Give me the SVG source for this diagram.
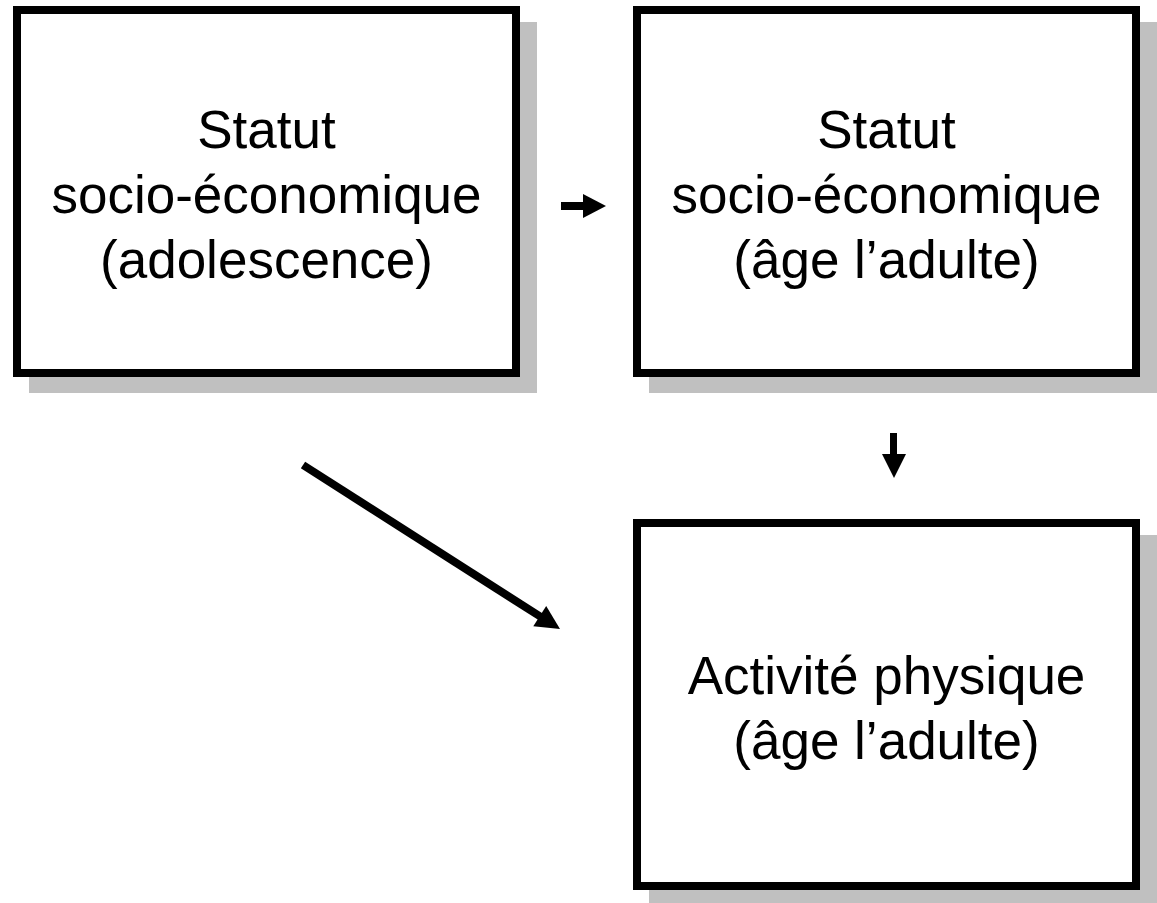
<svg xmlns="http://www.w3.org/2000/svg" width="1157" height="903" viewBox="0 0 1157 903">
<style>
.shadow{fill:#c0c0c0;stroke:none}
.box{fill:#ffffff;stroke:#000000;stroke-width:8}
.lbl{font-family:"Liberation Sans",Arial,sans-serif;font-size:53px;fill:#000000;text-anchor:middle}
.shaft{stroke:#000000;stroke-width:8;fill:none}
.head{fill:#000000;stroke:none}
</style>
<rect width="1157" height="903" fill="#ffffff"/>
<g id="node-ses-adolescence">
<rect class="shadow" x="29" y="22" width="508" height="371"/>
<rect class="box" x="17" y="10" width="499" height="363"/>
<text class="lbl" x="266.5" y="148">Statut</text>
<text class="lbl" x="266.5" y="213">socio-économique</text>
<text class="lbl" x="266.5" y="278">(adolescence)</text>
</g>
<g id="node-ses-adulte">
<rect class="shadow" x="649" y="22" width="508" height="371"/>
<rect class="box" x="637" y="10" width="499" height="363"/>
<text class="lbl" x="886.5" y="148">Statut</text>
<text class="lbl" x="886.5" y="213">socio-économique</text>
<text class="lbl" x="886.5" y="278">(âge l’adulte)</text>
</g>
<g id="node-activite">
<rect class="shadow" x="649" y="535" width="508" height="371"/>
<rect class="box" x="637" y="523" width="499" height="363"/>
<text class="lbl" x="886.5" y="694">Activité physique</text>
<text class="lbl" x="886.5" y="759">(âge l’adulte)</text>
</g>
<g id="connectors">
<line class="shaft" x1="561" y1="206" x2="585" y2="206"/>
<polygon class="head" points="583,194 606,206 583,218"/>
<line class="shaft" style="stroke-width:7" x1="893.5" y1="433" x2="893.5" y2="456"/>
<polygon class="head" points="882,454 906,454 894,478"/>
<line class="shaft" x1="303" y1="465" x2="541" y2="617"/>
<polygon class="head" points="533.3,626.2 560,629 546.2,606"/>
</g>
</svg>
